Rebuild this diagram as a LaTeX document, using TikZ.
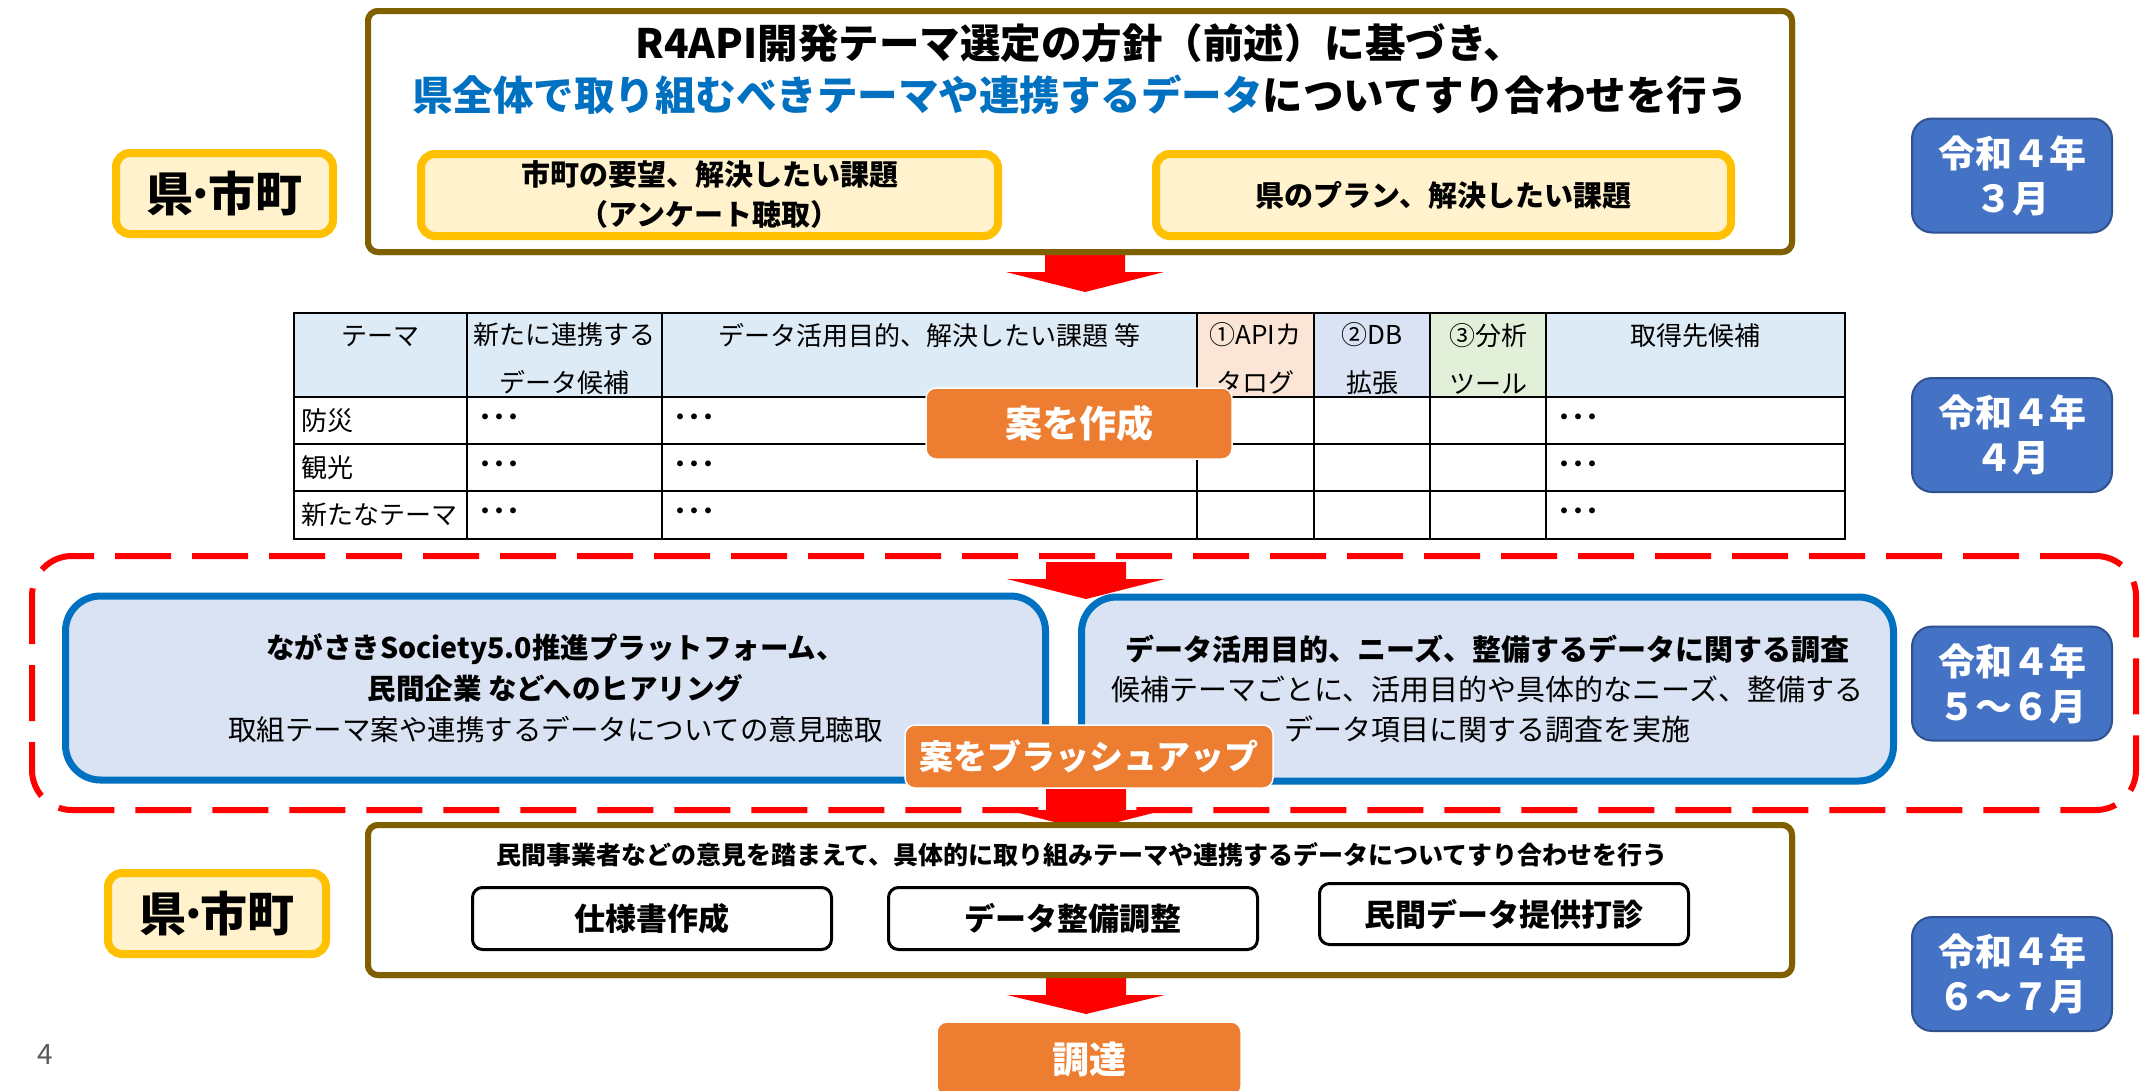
\documentclass[tikz,border=0pt]{standalone}
\usepackage{fontspec}
\setmainfont{Noto Sans CJK JP}
\usetikzlibrary{calc}
\definecolor{boxolive}{RGB}{127,96,0}
\definecolor{ygold}{RGB}{255,192,0}
\definecolor{ylight}{RGB}{255,242,204}
\definecolor{datefill}{RGB}{68,114,196}
\definecolor{dateline}{RGB}{47,82,143}
\definecolor{orng}{RGB}{237,125,49}
\definecolor{bluefill}{RGB}{218,227,243}
\definecolor{blueline}{RGB}{0,112,192}
\definecolor{titleblue}{RGB}{0,112,192}
\definecolor{hdrblue}{RGB}{221,235,247}
\definecolor{hdrpeach}{RGB}{251,229,214}
\definecolor{hdrlav}{RGB}{218,227,243}
\definecolor{hdrgreen}{RGB}{226,240,217}
\definecolor{arrowred}{RGB}{255,0,0}
\definecolor{pnum}{RGB}{89,89,89}
\newcommand\redarrow[3]{%
  \fill[arrowred] ($(#1)+(-40,0)$) -- ($(#1)+(40,0)$) -- ($(#1)+(40,#2)$) -- ($(#1)+(79,#2)$)
   -- ($(#1)+(0,#2+#3)$) -- ($(#1)+(-79,#2)$) -- ($(#1)+(-40,#2)$) -- cycle;}
\newcommand\kenshi{県\kern-.15em·\kern-.15em市町}
\tikzset{
 mainbox/.style={draw=boxolive, line width=6pt, rounded corners=10pt, fill=white, inner sep=0pt},
 ybox/.style={draw=ygold, line width=8pt, fill=ylight, rounded corners=14pt, inner sep=0pt, align=center},
 datebox/.style={draw=dateline, line width=2pt, fill=datefill, rounded corners=20pt, text=white,
   font=\bfseries\fontsize{37}{45}\selectfont, align=center, minimum width=200pt, minimum height=114pt, inner sep=0pt},
 orangebox/.style={fill=orng, draw=white, line width=1.5pt, rounded corners=10pt, text=white,
   font=\bfseries\fontsize{37}{44}\selectfont, inner sep=0pt},
 bluebox/.style={draw=blueline, line width=7pt, fill=bluefill, rounded corners=35pt, inner sep=0pt,
   align=center, font=\fontsize{28.5}{41}\selectfont},
 subbox/.style={draw=black, line width=3pt, fill=white, rounded corners=10pt, inner sep=0pt,
   font=\bfseries\fontsize{31}{37}\selectfont},
 hdrtext/.style={font=\fontsize{26}{48}\selectfont, align=center, inner sep=0pt},
 celltext/.style={font=\fontsize{26}{30}\selectfont, anchor=west, inner sep=0pt},
 dotstext/.style={font=\bfseries\fontsize{28}{30}\selectfont, anchor=west, inner sep=0pt},
 dashbox/.style={draw=arrowred, line width=6pt, dash pattern=on 56pt off 21pt, rounded corners=40pt, inner sep=0pt},
 txt/.style={inner sep=0pt, align=center},
 gridline/.style={draw=black, line width=2.5pt},
}
\begin{document}
\begin{tikzpicture}[x=1pt,y=-1pt]
\useasboundingbox (0,0) rectangle (2152,1090);
\fill[white] (0,0) rectangle (2152,1090);

% dashed group
\node[dashbox, minimum width=2104pt, minimum height=254pt] (grp) at (1084,683) {};

% ---------- top block ----------
\node[mainbox, minimum width=1424pt, minimum height=241pt] (top) at (1080,131.5) {};
\coordinate (a1) at ($(top.south)+(5,0)$);
\redarrow{a1}{17}{20}
\node[mainbox, minimum width=1424pt, minimum height=241pt] (topcover) at (1080,131.5) {};
\node[txt, font=\bfseries\fontsize{40.5}{52}\selectfont] (title) at (1080,69)
  {R4API開発テーマ選定の方針（前述）に基づき、\\\textcolor{titleblue}{県全体で取り組むべきテーマや連携するデータ}についてすり合わせを行う};
\node[ybox, minimum width=577pt, minimum height=82pt, font=\bfseries\fontsize{29}{40}\selectfont] (req1) at (709.5,195)
  {市町の要望、解決したい課題\\（アンケート聴取）};
\node[ybox, minimum width=575pt, minimum height=82pt, font=\bfseries\fontsize{29}{40}\selectfont] (req2) at (1443.5,195)
  {県のプラン、解決したい課題};
\node[ybox, minimum width=217pt, minimum height=81pt, font=\bfseries\fontsize{47}{50}\selectfont] (who1) at (224.5,193.5) {\kenshi};
\node[datebox] (d1) at (2012,175.5) {令和４年\\３月};

% ---------- table ----------
\fill[hdrblue] (294,313) rectangle (1197,397);
\fill[hdrpeach] (1197,313) rectangle (1314,397);
\fill[hdrlav] (1314,313) rectangle (1430,397);
\fill[hdrgreen] (1430,313) rectangle (1546,397);
\fill[hdrblue] (1546,313) rectangle (1845,397);
\draw[gridline] (294,313) rectangle (1845,539);
\foreach \yy in {397,444,491} \draw[gridline] (294,\yy) -- (1845,\yy);
\foreach \xx in {467,662,1197,1314,1430,1546} \draw[gridline] (\xx,313) -- (\xx,539);
\node[hdrtext] (h1) at (380.5,336) {テーマ};
\node[hdrtext] (h2) at (564.5,358.5) {新たに連携する\\データ候補};
\node[hdrtext] (h3) at (929.5,336) {データ活用目的、解決したい課題 等};
\node[hdrtext] (h4) at (1255.5,358.5) {①APIカ\\タログ};
\node[hdrtext] (h5) at (1372,358.5) {②DB\\拡張};
\node[hdrtext] (h6) at (1488,358.5) {③分析\\ツール};
\node[hdrtext] (h7) at (1695.5,336) {取得先候補};
\node[celltext] (r1) at (301,420.5) {防災};
\node[celltext] (r2) at (301,467.5) {観光};
\node[celltext] (r3) at (301,515) {新たなテーマ};
\foreach \yy [count=\i] in {420.5,467.5,515} {
  \node[dotstext] (da\i) at (478,\yy) {･･･};
  \node[dotstext] (db\i) at (673,\yy) {･･･};
  \node[dotstext] (dc\i) at (1557,\yy) {･･･};
}
\node[orangebox, minimum width=306pt, minimum height=71pt] (draft) at (1079,423.5) {案を作成};
\node[datebox] (d2) at (2012,435) {令和４年\\４月};

% ---------- hearing / survey ----------
\coordinate (a2) at (1086,562);
\redarrow{a2}{17}{20}
\coordinate (a3) at (1086,783);
\redarrow{a3}{27}{20}
\node[bluebox, minimum width=980pt, minimum height=184pt] (hear) at (555.5,688)
  {\textbf{ながさきSociety5.0推進プラットフォーム、}\\\textbf{民間企業 などへのヒアリング}\\取組テーマ案や連携するデータについての意見聴取};
\node[bluebox, minimum width=812pt, minimum height=184pt, font=\fontsize{29}{40}\selectfont] (survey) at (1487.5,689)
  {\textbf{データ活用目的、ニーズ、整備するデータに関する調査}\\候補テーマごとに、活用目的や具体的なニーズ、整備する\\データ項目に関する調査を実施};
\node[orangebox, minimum width=368pt, minimum height=63pt, font=\bfseries\fontsize{34}{40}\selectfont] (brush) at (1089,756.5) {案をブラッシュアップ};
\node[datebox] (d3) at (2012,683.5) {令和４年\\５～６月};

% ---------- bottom block ----------
\node[mainbox, minimum width=1424pt, minimum height=150pt] (bot) at (1080,900) {};
\coordinate (a4) at ($(bot.south)+(6,0)$);
\redarrow{a4}{17}{19}
\node[mainbox, minimum width=1424pt, minimum height=150pt] (botcover) at (1080,900) {};
\node[txt, font=\bfseries\fontsize{25}{30}\selectfont] (bothead) at (1082,855)
  {民間事業者などの意見を踏まえて、具体的に取り組みテーマや連携するデータについてすり合わせを行う};
\node[subbox, minimum width=359pt, minimum height=62pt] (spec) at (652,918.5) {仕様書作成};
\node[subbox, minimum width=369pt, minimum height=62pt] (adj) at (1073,918.5) {データ整備調整};
\node[subbox, minimum width=369pt, minimum height=61pt] (offer) at (1504,914) {民間データ提供打診};
\node[ybox, minimum width=218pt, minimum height=81pt, font=\bfseries\fontsize{47}{50}\selectfont] (who2) at (217,913.5) {\kenshi};
\node[datebox] (d4) at (2012,974) {令和４年\\６～７月};

\node[orangebox, minimum width=304pt, minimum height=74pt] (proc) at (1089,1059) {調達};
\node[inner sep=0pt, font=\fontsize{28}{32}\selectfont, text=pnum] (pg) at (45,1055) {4};
\end{tikzpicture}
\end{document}
